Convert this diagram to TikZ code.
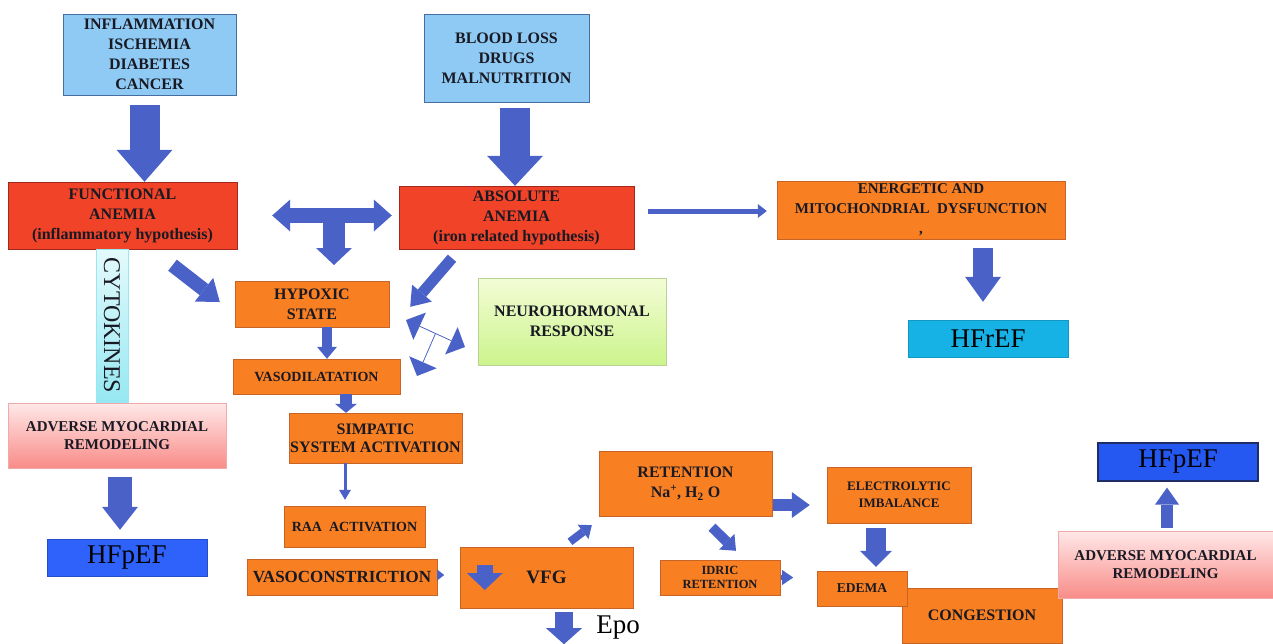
\documentclass[tikz,border=0pt]{standalone}
\usepackage{fontspec}
\setmainfont{Liberation Serif}
\usetikzlibrary{arrows.meta,calc}
\definecolor{lblue}{RGB}{142,202,243}
\definecolor{lbluedge}{RGB}{70,110,160}
\definecolor{anred}{RGB}{240,67,40}
\definecolor{anrededge}{RGB}{160,40,30}
\definecolor{orng}{RGB}{249,128,34}
\definecolor{orngedge}{RGB}{200,100,40}
\definecolor{arblue}{RGB}{74,98,200}
\definecolor{hfcyan}{RGB}{22,178,230}
\definecolor{hfblue}{RGB}{47,98,250}
\definecolor{hfblue2}{RGB}{36,88,240}
\definecolor{hfnavy}{RGB}{30,45,100}
\definecolor{pinktop}{RGB}{255,232,232}
\definecolor{pinkbot}{RGB}{248,140,136}
\definecolor{pinkedge}{RGB}{240,170,170}
\definecolor{greentop}{RGB}{243,252,214}
\definecolor{greenbot}{RGB}{204,244,140}
\definecolor{greenedge}{RGB}{185,210,150}
\definecolor{cyanl}{RGB}{150,232,242}
\definecolor{cyanr}{RGB}{228,250,252}
\definecolor{txt}{RGB}{25,25,35}
\begin{document}
\begin{tikzpicture}[x=1pt,y=-1pt,
box/.style={draw, inner sep=0pt, align=center, text=txt, font=\bfseries\fontsize{16}{20}\selectfont},
cause/.style={box, fill=lblue, draw=lbluedge},
anem/.style={box, fill=anred, draw=anrededge},
ora/.style={box, fill=orng, draw=orngedge},
remod/.style={box, draw=pinkedge, top color=pinktop, bottom color=pinkbot, font=\bfseries\fontsize{15}{18}\selectfont},
hf/.style={draw, inner sep=0pt, text=black, font=\fontsize{27}{30}\selectfont},
barr/.style n args={3}{arblue, line width=#1, >={Triangle[width=#2,length=#3,line width=0pt]}, ->}]
\useasboundingbox (0,0) rectangle (1273,643);
\node[cause, minimum width=173pt, minimum height=81pt] (infl) at (149.5,54.5) {INFLAMMATION\\ISCHEMIA\\DIABETES\\CANCER};
\node[cause, minimum width=165pt, minimum height=88pt] (loss) at (506.5,58) {BLOOD LOSS\\DRUGS\\MALNUTRITION};
\node[anem, minimum width=229pt, minimum height=67pt] (func) at (122.5,215.5) {FUNCTIONAL\\ANEMIA\\(inflammatory hypothesis)};
\node[anem, minimum width=235pt, minimum height=63pt] (abs) at (516.5,217.5) {ABSOLUTE\\ANEMIA\\(iron related hypothesis)};
\node[ora, minimum width=288pt, minimum height=58pt, font=\bfseries\fontsize{15}{20}\selectfont] (energ) at (921,210) {ENERGETIC AND\\MITOCHONDRIAL\ \ DYSFUNCTION\\,};
\node[hf, fill=hfcyan, draw=hfcyan!85!black, minimum width=160pt, minimum height=37pt] (hfr) at (988,338.5) {HFrEF};
\node[rotate=-90, draw=cyanl, top color=cyanr, bottom color=cyanl, minimum width=153pt, minimum height=32pt, inner sep=0pt, text=txt, font=\fontsize{24}{24}\selectfont] (cyto) at (112,325.5) {CYTOKINES};
\node[remod, minimum width=218pt, minimum height=65pt] (advl) at (117,435.5) {ADVERSE MYOCARDIAL\\REMODELING};
\node[hf, fill=hfblue, draw=hfblue!80!black, minimum width=160pt, minimum height=37pt] (hfpl) at (127,557.5) {HFpEF};
\node[ora, minimum width=154pt, minimum height=46pt] (hyp) at (312,304) {HYPOXIC\\STATE};
\node[ora, minimum width=167pt, minimum height=35pt, font=\bfseries\fontsize{14}{16}\selectfont] (vdil) at (316.5,376.5) {VASODILATATION};
\node[ora, minimum width=173pt, minimum height=50pt, font=\bfseries\fontsize{16}{18}\selectfont] (simp) at (375.5,438) {SIMPATIC\\SYSTEM ACTIVATION};
\node[ora, minimum width=141pt, minimum height=41pt, font=\bfseries\fontsize{14}{16}\selectfont] (raa) at (354.5,526.5) {RAA\ \ ACTIVATION};
\node[ora, minimum width=190pt, minimum height=36pt, font=\bfseries\fontsize{17}{19}\selectfont] (vcon) at (342,577) {VASOCONSTRICTION};
\node[ora, minimum width=173pt, minimum height=61pt, font=\bfseries\fontsize{19}{21}\selectfont] (vfg) at (546.5,577.5) {VFG};
\node[box, draw=greenedge, top color=greentop, bottom color=greenbot, minimum width=188pt, minimum height=87pt] (neuro) at (572,321.5) {NEUROHORMONAL\\RESPONSE};
\node[ora, minimum width=173pt, minimum height=65pt] (ret) at (685.5,483.5) {RETENTION\\Na\textsuperscript{+}, H\textsubscript{2} O};
\node[ora, minimum width=144pt, minimum height=56pt, font=\bfseries\fontsize{13}{17}\selectfont] (elec) at (899,495) {ELECTROLYTIC\\IMBALANCE};
\node[ora, minimum width=120pt, minimum height=35pt, font=\bfseries\fontsize{12.5}{14}\selectfont] (idric) at (720,577.5) {IDRIC\\RETENTION};
\node[ora, minimum width=160pt, minimum height=55pt] (cong) at (982,615.5) {CONGESTION};
\node[ora, minimum width=90pt, minimum height=35pt, font=\bfseries\fontsize{13.5}{16}\selectfont] (edema) at (862,588.5) {EDEMA};
\node[remod, minimum width=215pt, minimum height=67pt] (advr) at (1165.5,564.5) {ADVERSE MYOCARDIAL\\REMODELING};
\node[hf, fill=hfblue2, draw=hfnavy, line width=1.2pt, minimum width=160pt, minimum height=38pt] (hfpr) at (1178,462) {HFpEF};
\node[font=\fontsize{27}{30}\selectfont] (epo) at (618,628) {Epo};
\coordinate (tj) at (334,215);
\coordinate (tjend) at (334,265);
\coordinate (nh1) at (406,320);
\coordinate (nh2) at (465,347);
\coordinate (nh3) at (417,376);

\draw[barr={30pt}{56pt}{32pt}] ($(infl.south)+(-5,10)$) to ($(infl.south |- func.north)+(-5,0)$);
\draw[barr={30pt}{56pt}{30pt}] ($(loss.south)+(8.5,6)$) to ($(loss.south |- abs.north)+(8.5,0)$);
\draw[barr={15pt}{32pt}{18pt}, <->] ($(func.east)+(35,0)$) to ($(abs.west |- func.east)+(-7,0)$);
\draw[barr={22pt}{36pt}{17pt}] (tj) to (tjend);
\draw[barr={14pt}{30pt}{20pt}] ($(func.south)+(50,16)$) to ($(hyp.west)+(-15,-2)$);
\draw[barr={11pt}{26pt}{18pt}] ($(abs.south)+(-64.5,9)$) to ($(hyp.north east)+(21,26)$);
\draw[barr={10pt}{20pt}{12pt}] ($(hyp.south)+(15,0)$) to ($(hyp.south |- vdil.north)+(15,0)$);
\draw[barr={12pt}{22pt}{9pt}] ($(vdil.south)+(29.5,0)$) to ($(vdil.south |- simp.north)+(29.5,0)$);
\draw[barr={3pt}{12pt}{10pt}] ($(simp.south)+(-30.5,0)$) to ($(simp.south |- raa.north)+(-30.5,-6)$);
\draw[barr={5pt}{11pt}{7pt}] ($(vcon.east)+(0,-2)$) to ($(vcon.east)+(7,-2)$);
\draw[barr={16pt}{36pt}{17pt}] ($(vfg.west)+(25,-12.5)$) to ($(vfg.west)+(25,12.5)$);
\draw[barr={18pt}{36pt}{16pt}] ($(vfg.south)+(17.5,4)$) to ($(vfg.south)+(17.5,36)$);
\draw[barr={8pt}{18pt}{11pt}] ($(vfg.north)+(23.5,-5)$) to ($(ret.south west)+(-7,9)$);
\draw[barr={12pt}{26pt}{18pt}] ($(ret.east)+(1,21.5)$) to ($(elec.west)+(-17,10)$);
\draw[barr={10pt}{22pt}{13pt}] ($(ret.south)+(26.5,11)$) to ($(idric.north)+(16,-9)$);
\draw[barr={5pt}{15pt}{11pt}] ($(idric.east)+(1,0)$) to ($(idric.east)+(13,0)$);
\draw[barr={20pt}{32pt}{16pt}] ($(elec.south)+(-23,5)$) to ($(edema.north)+(14,-4)$);
\draw[barr={5pt}{14pt}{9pt}] ($(abs.east)+(14,-6.5)$) to ($(energ.west)+(-10,1)$);
\draw[barr={20pt}{36pt}{25pt}] ($(energ.south)+(62,9)$) to ($(hfr.north)+(-5,-18)$);
\draw[barr={12pt}{24pt}{17pt}] ($(advr.north)+(1.5,-3)$) to ($(hfpr.south)+(-11,6)$);
\draw[barr={24pt}{36pt}{23pt}] ($(advl.south)+(3,9)$) to ($(hfpl.north)+(-7,-9)$);
\draw[barr={0.8pt}{30pt}{15pt}, <->] (nh1) to (nh2);
\draw[barr={0.8pt}{30pt}{15pt}] ($(nh1)!0.5!(nh2)$) to (nh3);
\end{tikzpicture}
\end{document}
